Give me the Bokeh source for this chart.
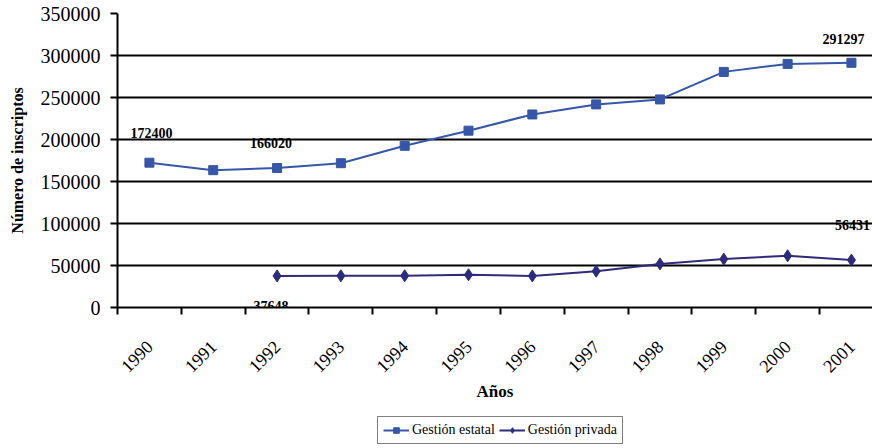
from bokeh.plotting import figure
from bokeh.models import FixedTicker, Grid, Legend, LegendItem, ColumnDataSource
from bokeh.layouts import column
from bokeh.embed import file_html
from bokeh.resources import INLINE
from bokeh.core.properties import value
import math

years = ["1990", "1991", "1992", "1993", "1994", "1995", "1996", "1997", "1998", "1999", "2000", "2001"]
estatal = [172400, 163500, 166020, 171800, 192500, 210500, 229800, 241800, 247700, 280500, 290000, 291297]
privada_years = ["1992", "1993", "1994", "1995", "1996", "1997", "1998", "1999", "2000", "2001"]
privada = [37648, 37700, 37800, 39000, 37600, 43200, 51900, 57600, 61600, 56431]

label_years = ["1990", "1992", "2001", "1992", "2001"]
label_values = [172400, 166020, 291297, 37648, 56431]
y_ticks = [0, 50000, 100000, 150000, 200000, 250000, 300000, 350000]
series_names = ["Gestión estatal", "Gestión privada"]

# label placement (style)
label_dx = [2, -6, -8, -6, 1]
label_dy = [-30, -25, -24, 30, -35]

SERIF = "Liberation Serif"
c_est = "#3656A8"
c_priv = "#2E2B7A"

xi = {y: i for i, y in enumerate(years)}

p = figure(width=872, height=410, output_backend="svg", toolbar_location=None,
           x_range=(-0.5, 11.33), y_range=(0, 350000),
           min_border_left=117, min_border_right=0, min_border_top=13, min_border_bottom=103)
p.outline_line_color = None
p.background_fill_color = "white"
p.border_fill_color = "white"

# axes
p.xaxis.ticker = FixedTicker(ticks=list(range(len(years))),
                             minor_ticks=[i - 0.5 for i in range(len(years) + 1)])
p.xaxis.major_label_overrides = {i: y for i, y in enumerate(years)}
p.xaxis.major_label_orientation = math.pi / 4
p.xaxis.major_tick_out = 0
p.xaxis.major_tick_in = 0
p.xaxis.minor_tick_out = 7
p.xaxis.minor_tick_in = 0
p.xaxis.minor_tick_line_color = "black"
p.xaxis.minor_tick_line_width = 2
p.xaxis.axis_line_color = "black"
p.xaxis.axis_line_width = 2
p.xaxis.major_label_text_font = SERIF
p.xaxis.major_label_text_font_size = "18px"
p.xaxis.major_label_text_color = "black"
p.xaxis.major_label_standoff = 29
p.xaxis.axis_label = "Años"
p.xaxis.axis_label_text_font = SERIF
p.xaxis.axis_label_text_font_style = "bold"
p.xaxis.axis_label_text_font_size = "17px"
p.xaxis.axis_label_text_color = "black"
p.xaxis.axis_label_standoff = 1

p.yaxis.ticker = FixedTicker(ticks=y_ticks, minor_ticks=[])
p.yaxis.major_label_overrides = {v: str(v) for v in y_ticks}
p.yaxis.major_tick_out = 7
p.yaxis.major_tick_in = 0
p.yaxis.major_tick_line_width = 2
p.yaxis.major_tick_line_color = "black"
p.yaxis.axis_line_color = "black"
p.yaxis.axis_line_width = 2
p.yaxis.major_label_text_font = SERIF
p.yaxis.major_label_text_font_size = "20px"
p.yaxis.major_label_text_color = "black"
p.yaxis.major_label_standoff = 10
p.yaxis.axis_label = "Número de inscriptos"
p.yaxis.axis_label_text_font = SERIF
p.yaxis.axis_label_text_font_style = "bold"
p.yaxis.axis_label_text_font_size = "16px"
p.yaxis.axis_label_text_color = "black"
p.yaxis.axis_label_standoff = 12

p.xgrid.grid_line_color = None
p.ygrid.ticker = FixedTicker(ticks=y_ticks[1:-1])
p.ygrid.grid_line_color = "black"
p.ygrid.grid_line_width = 2
top_grid = Grid(dimension=1, ticker=FixedTicker(ticks=[y_ticks[-1]]),
                grid_line_color="#808080", grid_line_width=2)
p.add_layout(top_grid)

src_e = ColumnDataSource(dict(x=[xi[y] for y in years], y=estatal))
src_p = ColumnDataSource(dict(x=[xi[y] for y in privada_years], y=privada))

p.line("x", "y", source=src_e, line_color=c_est, line_width=2)
p.scatter("x", "y", source=src_e, marker="square", size=9, fill_color=c_est, line_color=c_est)
p.line("x", "y", source=src_p, line_color=c_priv, line_width=2)
p.scatter("x", "y", source=src_p, marker="diamond", size=12, fill_color=c_priv, line_color=c_priv)

src_l = ColumnDataSource(dict(x=[xi[y] for y in label_years], y=label_values,
                              t=[str(v) for v in label_values], dx=label_dx, dy=label_dy))
p.text("x", "y", text="t", source=src_l, x_offset="dx", y_offset="dy",
       text_font=value(SERIF), text_font_style="bold", text_font_size="14px",
       text_color="black", text_align="center", text_baseline="middle")

# legend strip below the chart (its renderers share the data but lie outside its view)
lg = figure(width=872, height=38, output_backend="svg", toolbar_location=None,
            x_range=(0, 1), y_range=(-2, -1), x_axis_location=None, y_axis_location=None,
            min_border=0, min_border_left=0, min_border_right=0,
            min_border_top=0, min_border_bottom=0)
lg.outline_line_color = None
lg.grid.visible = False
l1 = lg.line("x", "y", source=src_e, line_color=c_est, line_width=2)
m1 = lg.scatter("x", "y", source=src_e, marker="square", size=8,
                fill_color=c_est, line_color=c_est)
l2 = lg.line("x", "y", source=src_p, line_color=c_priv, line_width=2)
m2 = lg.scatter("x", "y", source=src_p, marker="diamond", size=10,
                fill_color=c_priv, line_color=c_priv)

legend = Legend(items=[LegendItem(label=series_names[0], renderers=[l1, m1]),
                       LegendItem(label=series_names[1], renderers=[l2, m2])],
                orientation="horizontal", location=(260, 4),
                label_text_font=SERIF, label_text_font_size="14px", label_text_color="black",
                label_standoff=3, glyph_width=26, glyph_height=14, spacing=4,
                padding=5, margin=0, label_height=14,
                border_line_color="black", border_line_width=1.5,
                background_fill_color="white", background_fill_alpha=1)
lg.add_layout(legend, "center")

layout = column(p, lg, spacing=0)
open("out.html", "w").write(file_html(layout, INLINE))
